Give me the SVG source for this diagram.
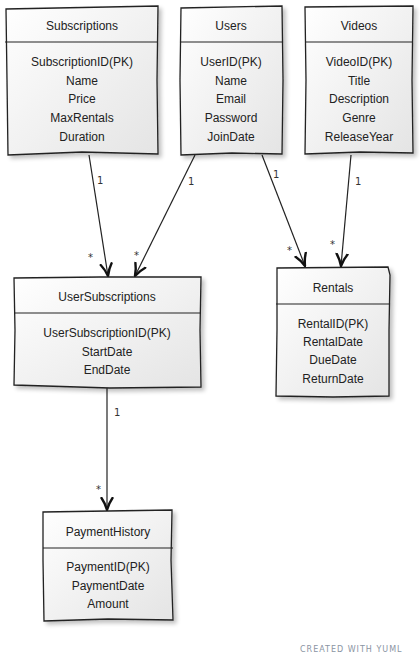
<svg xmlns="http://www.w3.org/2000/svg" width="420" height="665" viewBox="0 0 420 665">
<defs>
<linearGradient id="g" x1="0" y1="0" x2="1" y2="1">
<stop offset="0" stop-color="#ffffff"/>
<stop offset="1" stop-color="#e4e4e4"/>
</linearGradient>
<filter id="sh" x="-10%" y="-10%" width="130%" height="130%">
<feGaussianBlur in="SourceAlpha" stdDeviation="2"/>
<feOffset dx="3" dy="3"/>
<feComponentTransfer><feFuncA type="linear" slope="0.25"/></feComponentTransfer>
<feMerge><feMergeNode/><feMergeNode in="SourceGraphic"/></feMerge>
</filter>
<marker id="arr" viewBox="0 0 14 14" refX="13" refY="7" markerWidth="14" markerHeight="14" markerUnits="userSpaceOnUse" orient="auto">
<path d="M1,1.5 Q6,5 13,7 Q6,9 1,12.5" fill="none" stroke="#111" stroke-width="2.4" stroke-linecap="round"/>
</marker>
</defs>
<style>
.box{fill:url(#g);stroke:#222;stroke-width:1.3;filter:url(#sh)}
.sep{stroke:#222;stroke-width:1.1}
.t{font-family:"Liberation Sans",Arial,sans-serif;font-size:12px;fill:#222;text-anchor:middle}
.c{stroke:#222;stroke-width:1.2;fill:none;marker-end:url(#arr)}
.lb{font-family:"DejaVu Sans",sans-serif;font-size:10px;fill:#333}
.ft{font-family:"DejaVu Sans",sans-serif;font-size:8px;fill:#8a94a3;letter-spacing:1px}
</style>
<rect width="420" height="665" fill="#ffffff"/>

<g id="connectors">
<path class="c" d="M89,155 L108,276"/>
<path class="c" d="M195,155 L135,276"/>
<path class="c" d="M262,155 L305,266"/>
<path class="c" d="M351,155 L341,266"/>
<path class="c" d="M107,388 L107,510"/>
<text class="lb" x="97" y="184">1</text>
<text class="lb" x="88" y="261">*</text>
<text class="lb" x="188" y="185">1</text>
<text class="lb" x="134" y="259">*</text>
<text class="lb" x="273" y="178">1</text>
<text class="lb" x="287" y="254">*</text>
<text class="lb" x="355" y="185">1</text>
<text class="lb" x="330" y="248">*</text>
<text class="lb" x="114" y="416">1</text>
<text class="lb" x="96" y="493">*</text>
</g>

<g id="Subscriptions">
<path class="box" d="M6,9 L158,6 L157,80 L158,154 L82,152 L8,155 L7,80 Z"/>
<line class="sep" x1="5" y1="42" x2="158" y2="42"/>
<text class="t" x="82" y="30">Subscriptions</text>
<text class="t" x="82" y="66">SubscriptionID(PK)</text>
<text class="t" x="82" y="85">Name</text>
<text class="t" x="82" y="103">Price</text>
<text class="t" x="82" y="122">MaxRentals</text>
<text class="t" x="82" y="141">Duration</text>
</g>

<g id="Users">
<path class="box" d="M181,8 L282,6 L283,80 L282,154 L232,153 L181,155 L180,80 Z"/>
<line class="sep" x1="181" y1="42" x2="283" y2="42"/>
<text class="t" x="231" y="30">Users</text>
<text class="t" x="231" y="66">UserID(PK)</text>
<text class="t" x="231" y="85">Name</text>
<text class="t" x="231" y="103">Email</text>
<text class="t" x="231" y="122">Password</text>
<text class="t" x="231" y="141">JoinDate</text>
</g>

<g id="Videos">
<path class="box" d="M305,7 L413,6 L412,80 L413,153 L360,152 L305,154 L306,80 Z"/>
<line class="sep" x1="305" y1="42" x2="413" y2="42"/>
<text class="t" x="359" y="30">Videos</text>
<text class="t" x="359" y="66">VideoID(PK)</text>
<text class="t" x="359" y="85">Title</text>
<text class="t" x="359" y="103">Description</text>
<text class="t" x="359" y="122">Genre</text>
<text class="t" x="359" y="141">ReleaseYear</text>
</g>

<g id="UserSubscriptions">
<path class="box" d="M14,278 L100,277 L201,277 L200,330 L201,387 L110,388 L14,385 L15,330 Z"/>
<line class="sep" x1="14" y1="313" x2="201" y2="313"/>
<text class="t" x="107" y="301">UserSubscriptions</text>
<text class="t" x="107" y="337">UserSubscriptionID(PK)</text>
<text class="t" x="107" y="356">StartDate</text>
<text class="t" x="107" y="374">EndDate</text>
</g>

<g id="Rentals">
<path class="box" d="M277,268 L388,267 L390,275 L389,330 L389,396 L333,397 L276,396 L277,330 Z"/>
<line class="sep" x1="276" y1="304" x2="390" y2="304"/>
<text class="t" x="333" y="292">Rentals</text>
<text class="t" x="333" y="328">RentalID(PK)</text>
<text class="t" x="333" y="346">RentalDate</text>
<text class="t" x="333" y="364">DueDate</text>
<text class="t" x="333" y="383">ReturnDate</text>
</g>

<g id="PaymentHistory">
<path class="box" d="M43,512 L172,510 L171,560 L173,620 L108,619 L44,621 L43,560 Z"/>
<line class="sep" x1="43" y1="548" x2="173" y2="548"/>
<text class="t" x="108" y="536">PaymentHistory</text>
<text class="t" x="108" y="571">PaymentID(PK)</text>
<text class="t" x="108" y="590">PaymentDate</text>
<text class="t" x="108" y="608">Amount</text>
</g>

<text class="ft" x="300" y="652">CREATED WITH YUML</text>
</svg>
